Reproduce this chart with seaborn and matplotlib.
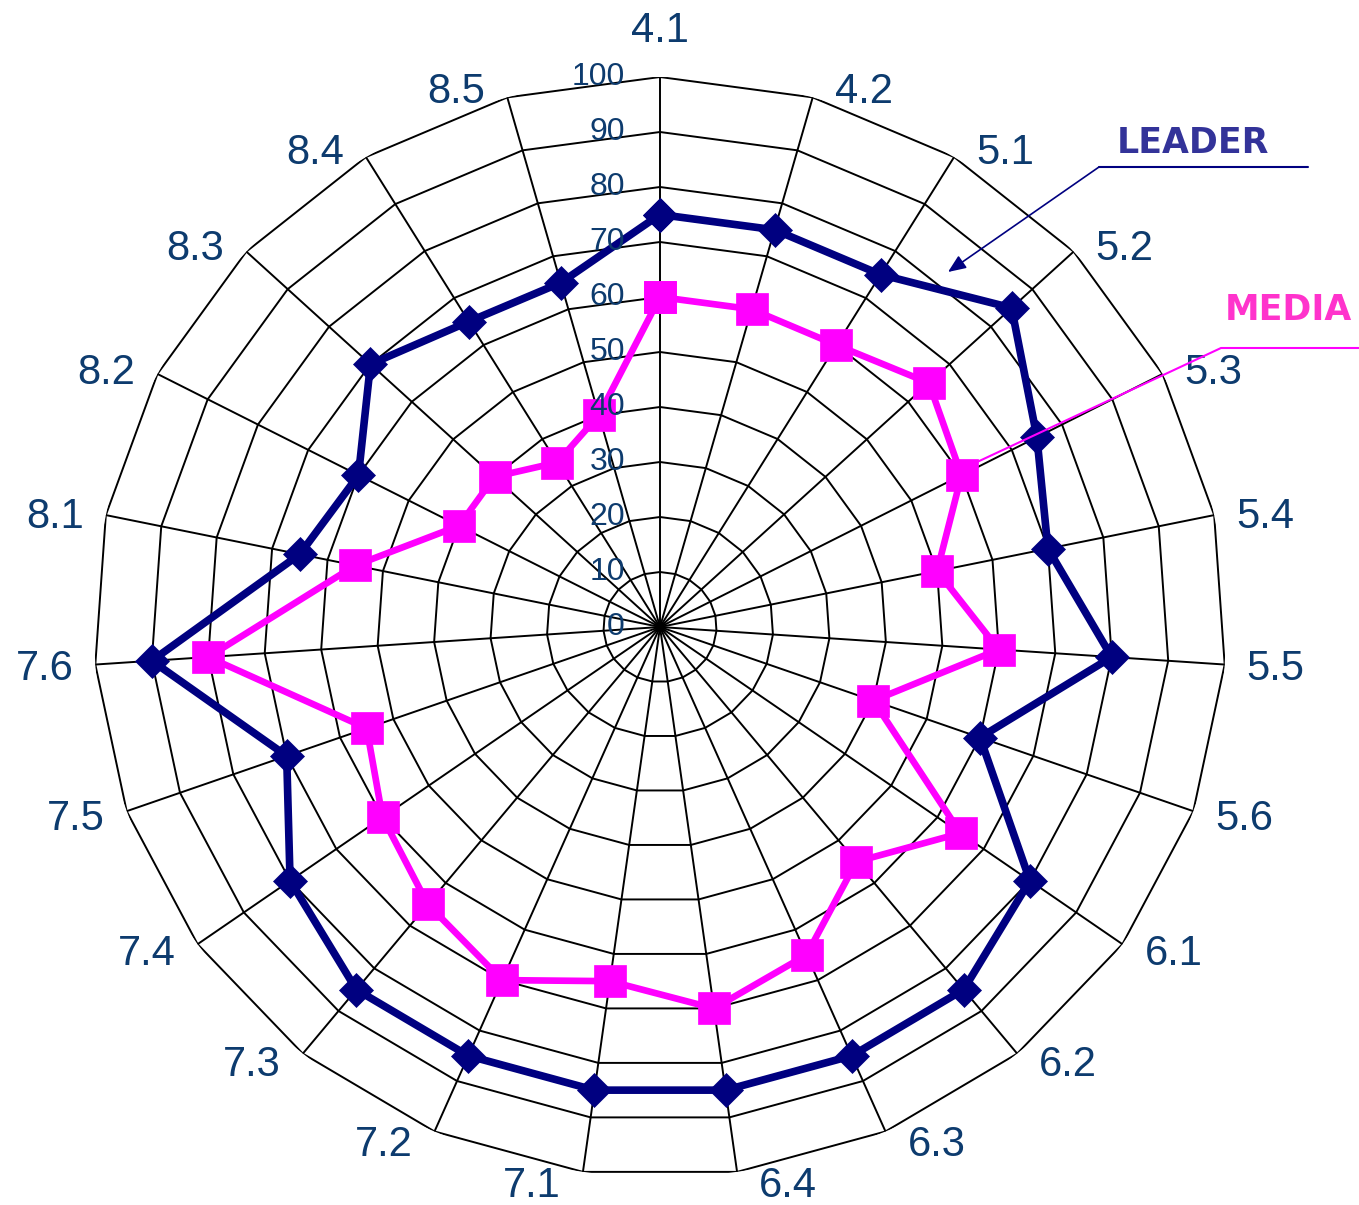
import numpy as np
import pandas as pd
import matplotlib
matplotlib.use("Agg")
import matplotlib.pyplot as plt
import seaborn as sns
from matplotlib.lines import Line2D
from matplotlib.patches import FancyArrowPatch

# ---------------- data ----------------
categories = ["4.1", "4.2", "5.1", "5.2", "5.3", "5.4", "5.5", "5.6",
              "6.1", "6.2", "6.3", "6.4", "7.1", "7.2", "7.3", "7.4",
              "7.5", "7.6", "8.1", "8.2", "8.3", "8.4", "8.5"]
leader = [75, 75, 75, 85, 75, 70, 80, 60, 80, 85, 85, 85,
          85, 85, 85, 80, 70, 90, 65, 60, 70, 65, 65]
media = [60, 60, 60, 65, 60, 50, 60, 40, 65, 55, 65, 70,
         65, 70, 65, 60, 55, 80, 55, 40, 40, 35, 40]
radial_ticks = [0, 10, 20, 30, 40, 50, 60, 70, 80, 90, 100]
series_names = ["LEADER", "MEDIA"]

# ---------------- style ----------------
sns.set_theme(style="white")
plt.rcParams['font.family'] = ['Liberation Sans', 'DejaVu Sans']

LABEL_COLOR = "#0D3B6E"
LEADER_COLOR = "#000080"
MEDIA_COLOR = "#FF00FF"

W, H = 1359, 1205
fig = plt.figure(figsize=(W / 100, H / 100), dpi=100)
fig.patch.set_facecolor("white")

cx, cy = 660, 627      # centre in pixels (from top)
rx, ry = 566, 550      # radius of the 100 ring (x / y)
ax = fig.add_axes([(cx - rx) / W, (H - cy - ry) / H, 2 * rx / W, 2 * ry / H],
                  projection='polar')
ax.set_aspect('auto')
ax.set_theta_zero_location('N')
ax.set_theta_direction(-1)
ax.set_ylim(0, 100)
ax.grid(False)
ax.spines['polar'].set_visible(False)
ax.set_xticks([])
ax.set_yticks([])
ax.patch.set_alpha(0)

n = len(categories)
theta = np.arange(n) * 2 * np.pi / n
theta_closed = np.append(theta, 2 * np.pi)

# polygon grid + spokes
for lvl in radial_ticks[1:]:
    ax.plot(theta_closed, [lvl] * (n + 1), color="black", lw=1.4, zorder=1,
            solid_joinstyle="miter")
for t in theta:
    ax.plot([t, t], [0, radial_ticks[-1]], color="black", lw=1.4, zorder=1)

# data via seaborn
def closed_df(vals, name):
    return pd.DataFrame({"theta": theta_closed,
                         "value": list(vals) + [vals[0]],
                         "series": name})

df_leader = closed_df(leader, series_names[0])
df_media = closed_df(media, series_names[1])

sns.lineplot(data=df_leader, x="theta", y="value", sort=False, estimator=None,
             color=LEADER_COLOR, lw=5.5, marker="D", markersize=17,
             markeredgecolor=LEADER_COLOR, markeredgewidth=0.5,
             ax=ax, legend=False, zorder=3, clip_on=False)
sns.lineplot(data=df_media, x="theta", y="value", sort=False, estimator=None,
             color=MEDIA_COLOR, lw=4.8, marker="s", markersize=23,
             markeredgecolor=MEDIA_COLOR, markeredgewidth=0.5,
             ax=ax, legend=False, zorder=4, clip_on=False)
ax.set_xlabel("")
ax.set_ylabel("")
ax.set_xticks([])
ax.set_yticks([])
ax.set_ylim(0, 100)

# radial value labels
PT = 0.72  # px -> points
for lvl in radial_ticks:
    ax.annotate(str(lvl), xy=(0, lvl), xytext=(-35 * PT, 0),
                textcoords="offset points", ha="right", va="center",
                fontsize=23, color=LABEL_COLOR, zorder=6)

# category labels
for t, lab in zip(theta, categories):
    s, c = np.sin(t), np.cos(t)
    if abs(s) < 0.05:
        off = (0, 26 * PT)
        ha, va = "center", "bottom"
    else:
        off = (np.sign(s) * 22 * PT, (10 * c - 4) * PT)
        ha = "left" if s > 0 else "right"
        va = "center"
    ax.annotate(lab, xy=(t, 100), xytext=off, textcoords="offset points",
                ha=ha, va=va, fontsize=30, color=LABEL_COLOR,
                annotation_clip=False, zorder=6)

# series call-outs
def fx(px):
    return px / W

def fy(py):
    return 1 - py / H

fig.text(fx(1193), fy(143), series_names[0], ha="center", va="center",
         fontsize=25, fontweight="bold", color="#333399",
         family=["DejaVu Sans"])
fig.add_artist(Line2D([fx(1099), fx(1308)], [fy(167), fy(167)],
                      color=LEADER_COLOR, lw=1.5))
fig.add_artist(FancyArrowPatch((fx(1099), fy(167)), (fx(948), fy(272)),
                               transform=fig.transFigure,
                               arrowstyle="-|>,head_length=0.6,head_width=0.25",
                               mutation_scale=18, color=LEADER_COLOR, lw=1.2,
                               shrinkA=0, shrinkB=0))

fig.text(fx(1288), fy(310), series_names[1], ha="center", va="center",
         fontsize=25, fontweight="bold", color="#FF33CC",
         family=["DejaVu Sans"])
fig.add_artist(Line2D([fx(1359), fx(1221), fx(975)],
                      [fy(348), fy(348), fy(463)],
                      color=MEDIA_COLOR, lw=1.5))

fig.savefig("out.png", dpi=100, facecolor="white")
